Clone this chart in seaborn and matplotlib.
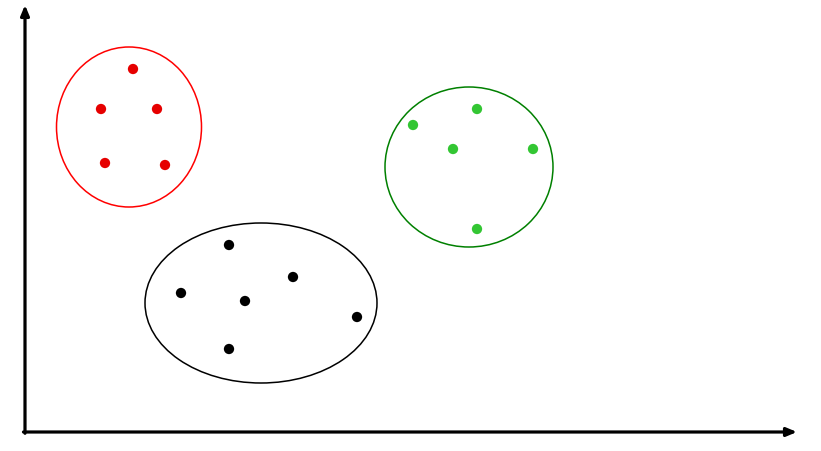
import matplotlib
matplotlib.use("Agg")
import matplotlib.pyplot as plt
from matplotlib.patches import Ellipse
import seaborn as sns
import pandas as pd

# Data (x, y in chart units, origin at axes corner)
red_x = [108, 76, 132, 80, 140]
red_y = [363, 323, 323, 269, 267]
green_x = [388, 452, 428, 508, 452]
green_y = [307, 323, 283, 283, 203]
black_x = [204, 268, 156, 220, 332, 204]
black_y = [187, 155, 139, 131, 115, 83]

# Cluster outlines: center x, center y, width, height
cluster_names = ["red", "green", "black"]
ell_cx = [104, 444, 236]
ell_cy = [305, 265, 129]
ell_w = [145, 168, 232]
ell_h = [160, 160, 160]

df = pd.DataFrame({
    "x": red_x + green_x + black_x,
    "y": red_y + green_y + black_y,
    "cluster": ["red"] * len(red_x) + ["green"] * len(green_x) + ["black"] * len(black_x),
})

point_colors = {"red": "#e60000", "green": "#33c633", "black": "#000000"}
edge_colors = {"red": "#ff0000", "green": "#008000", "black": "#000000"}

sns.set_style("white")
fig = plt.figure(figsize=(8.21, 4.51), dpi=100)
ax = fig.add_axes([25 / 821, (451 - 432) / 451, (797 - 25) / 821, (432 - 5) / 451])

sns.scatterplot(data=df, x="x", y="y", hue="cluster", palette=point_colors,
                s=55, edgecolor="none", legend=False, ax=ax, zorder=3)

for name, cx, cy, w, h in zip(cluster_names, ell_cx, ell_cy, ell_w, ell_h):
    ax.add_patch(Ellipse((cx, cy), w, h, fill=False, edgecolor=edge_colors[name], lw=1.1))

ax.set_xlim(0, 772)
ax.set_ylim(0, 427)
for s in ax.spines.values():
    s.set_visible(False)
ax.set_xticks([])
ax.set_yticks([])
ax.set_xlabel("")
ax.set_ylabel("")

# Arrow axes
ax.annotate("", xy=(1.0, 0), xytext=(-0.002, 0), xycoords="axes fraction",
            arrowprops=dict(arrowstyle="-|>,head_length=0.6,head_width=0.25", lw=2.3, color="black",
                            shrinkA=0, shrinkB=0), annotation_clip=False)
ax.annotate("", xy=(0, 1.0), xytext=(0, -0.003), xycoords="axes fraction",
            arrowprops=dict(arrowstyle="-|>,head_length=0.6,head_width=0.25", lw=2.3, color="black",
                            shrinkA=0, shrinkB=0), annotation_clip=False)

fig.savefig("out.png", dpi=100)
